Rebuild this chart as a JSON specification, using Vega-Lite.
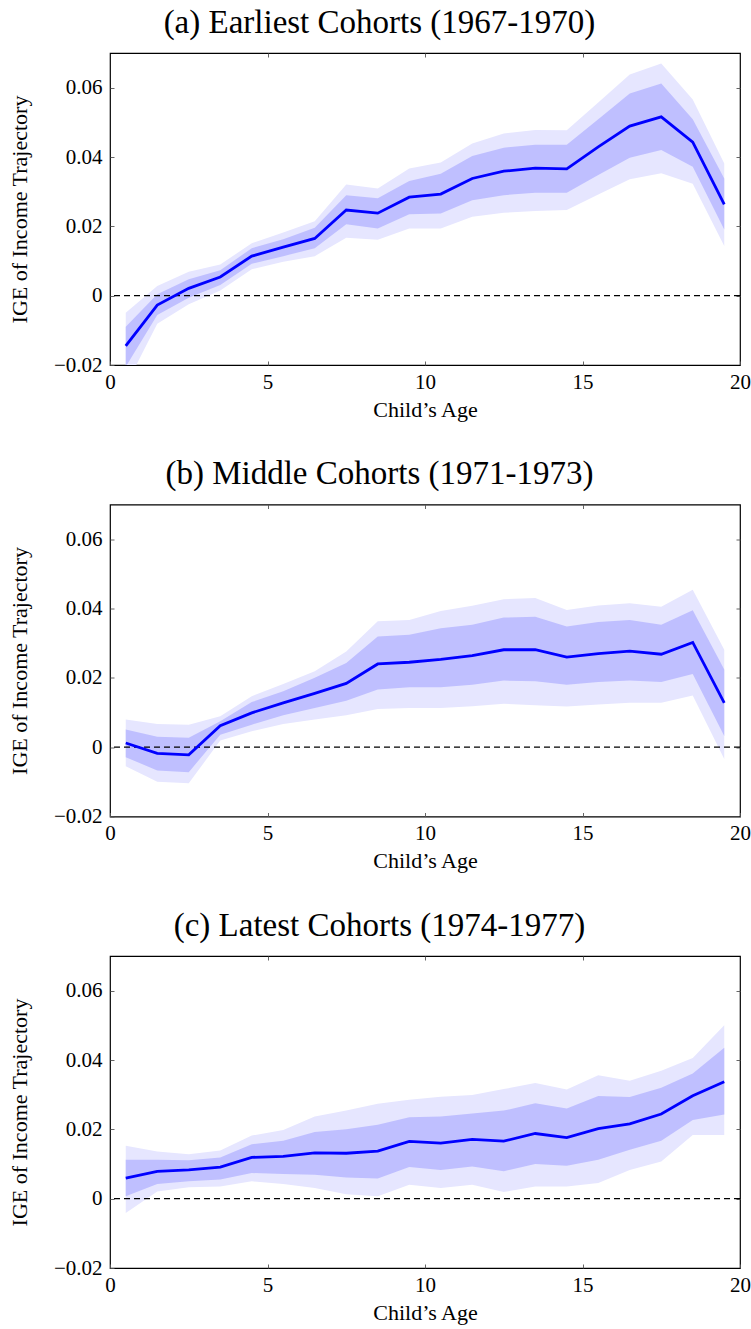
{
  "$schema": "https://vega.github.io/schema/vega-lite/v6.json",
  "background": "white",
  "padding": {"left": 7, "top": 5, "right": 8, "bottom": 2},
  "datasets": {
    "a": [
      {"age": 0.5, "m": -0.0145, "lo2": -0.026, "lo1": -0.0205, "hi1": -0.0090, "hi2": -0.0049},
      {"age": 1.5, "m": -0.0027, "lo2": -0.0081, "lo1": -0.0056, "hi1": 0.0004, "hi2": 0.0028},
      {"age": 2.5, "m": 0.0021, "lo2": -0.0025, "lo1": -0.0006, "hi1": 0.0047, "hi2": 0.0069},
      {"age": 3.5, "m": 0.0054, "lo2": 0.0015, "lo1": 0.0031, "hi1": 0.0073, "hi2": 0.0090},
      {"age": 4.5, "m": 0.0114, "lo2": 0.0076, "lo1": 0.0092, "hi1": 0.0137, "hi2": 0.0151},
      {"age": 5.5, "m": 0.0140, "lo2": 0.0098, "lo1": 0.0114, "hi1": 0.0163, "hi2": 0.0182},
      {"age": 6.5, "m": 0.0165, "lo2": 0.0114, "lo1": 0.0137, "hi1": 0.0196, "hi2": 0.0215},
      {"age": 7.5, "m": 0.0247, "lo2": 0.0167, "lo1": 0.0206, "hi1": 0.0290, "hi2": 0.0321},
      {"age": 8.5, "m": 0.0238, "lo2": 0.0161, "lo1": 0.0194, "hi1": 0.0281, "hi2": 0.0309},
      {"age": 9.5, "m": 0.0284, "lo2": 0.0194, "lo1": 0.0235, "hi1": 0.0331, "hi2": 0.0367},
      {"age": 10.5, "m": 0.0293, "lo2": 0.0194, "lo1": 0.0237, "hi1": 0.0352, "hi2": 0.0384},
      {"age": 11.5, "m": 0.0338, "lo2": 0.0228, "lo1": 0.0275, "hi1": 0.0403, "hi2": 0.0439},
      {"age": 12.5, "m": 0.0359, "lo2": 0.0239, "lo1": 0.0290, "hi1": 0.0427, "hi2": 0.0468},
      {"age": 13.5, "m": 0.0368, "lo2": 0.0244, "lo1": 0.0297, "hi1": 0.0435, "hi2": 0.0478},
      {"age": 14.5, "m": 0.0366, "lo2": 0.0247, "lo1": 0.0297, "hi1": 0.0435, "hi2": 0.0477},
      {"age": 15.5, "m": 0.0429, "lo2": 0.0292, "lo1": 0.0348, "hi1": 0.0509, "hi2": 0.0557},
      {"age": 16.5, "m": 0.0489, "lo2": 0.0336, "lo1": 0.0398, "hi1": 0.0583, "hi2": 0.0638},
      {"age": 17.5, "m": 0.0516, "lo2": 0.0353, "lo1": 0.0420, "hi1": 0.0612, "hi2": 0.0670},
      {"age": 18.5, "m": 0.0443, "lo2": 0.0323, "lo1": 0.0372, "hi1": 0.0509, "hi2": 0.0566},
      {"age": 19.5, "m": 0.0263, "lo2": 0.0143, "lo1": 0.0191, "hi1": 0.0338, "hi2": 0.0381}
    ],
    "b": [
      {"age": 0.5, "m": 0.0012, "lo2": -0.0055, "lo1": -0.0029, "hi1": 0.0051, "hi2": 0.0080},
      {"age": 1.5, "m": -0.0018, "lo2": -0.0100, "lo1": -0.0067, "hi1": 0.0030, "hi2": 0.0067},
      {"age": 2.5, "m": -0.0022, "lo2": -0.0104, "lo1": -0.0072, "hi1": 0.0027, "hi2": 0.0065},
      {"age": 3.5, "m": 0.0062, "lo2": 0.0019, "lo1": 0.0036, "hi1": 0.0075, "hi2": 0.0089},
      {"age": 4.5, "m": 0.0099, "lo2": 0.0046, "lo1": 0.0065, "hi1": 0.0130, "hi2": 0.0147},
      {"age": 5.5, "m": 0.0128, "lo2": 0.0067, "lo1": 0.0092, "hi1": 0.0161, "hi2": 0.0182},
      {"age": 6.5, "m": 0.0155, "lo2": 0.0080, "lo1": 0.0113, "hi1": 0.0200, "hi2": 0.0219},
      {"age": 7.5, "m": 0.0184, "lo2": 0.0092, "lo1": 0.0134, "hi1": 0.0243, "hi2": 0.0276},
      {"age": 8.5, "m": 0.0240, "lo2": 0.0110, "lo1": 0.0166, "hi1": 0.0319, "hi2": 0.0363},
      {"age": 9.5, "m": 0.0245, "lo2": 0.0113, "lo1": 0.0173, "hi1": 0.0324, "hi2": 0.0367},
      {"age": 10.5, "m": 0.0253, "lo2": 0.0113, "lo1": 0.0173, "hi1": 0.0343, "hi2": 0.0393},
      {"age": 11.5, "m": 0.0264, "lo2": 0.0118, "lo1": 0.0180, "hi1": 0.0353, "hi2": 0.0408},
      {"age": 12.5, "m": 0.0281, "lo2": 0.0125, "lo1": 0.0192, "hi1": 0.0374, "hi2": 0.0427},
      {"age": 13.5, "m": 0.0281, "lo2": 0.0121, "lo1": 0.0190, "hi1": 0.0376, "hi2": 0.0430},
      {"age": 14.5, "m": 0.0260, "lo2": 0.0117, "lo1": 0.0180, "hi1": 0.0348, "hi2": 0.0396},
      {"age": 15.5, "m": 0.0270, "lo2": 0.0123, "lo1": 0.0188, "hi1": 0.0361, "hi2": 0.0409},
      {"age": 16.5, "m": 0.0277, "lo2": 0.0128, "lo1": 0.0192, "hi1": 0.0367, "hi2": 0.0415},
      {"age": 17.5, "m": 0.0268, "lo2": 0.0128, "lo1": 0.0188, "hi1": 0.0353, "hi2": 0.0405},
      {"age": 18.5, "m": 0.0302, "lo2": 0.0149, "lo1": 0.0211, "hi1": 0.0395, "hi2": 0.0454},
      {"age": 19.5, "m": 0.0128, "lo2": -0.0034, "lo1": 0.0032, "hi1": 0.0224, "hi2": 0.0281}
    ],
    "c": [
      {"age": 0.5, "m": 0.0059, "lo2": -0.0041, "lo1": 0.0007, "hi1": 0.0112, "hi2": 0.0153},
      {"age": 1.5, "m": 0.0079, "lo2": 0.0021, "lo1": 0.0042, "hi1": 0.0112, "hi2": 0.0136},
      {"age": 2.5, "m": 0.0083, "lo2": 0.0033, "lo1": 0.0050, "hi1": 0.0111, "hi2": 0.0128},
      {"age": 3.5, "m": 0.0091, "lo2": 0.0035, "lo1": 0.0055, "hi1": 0.0119, "hi2": 0.0139},
      {"age": 4.5, "m": 0.0119, "lo2": 0.0050, "lo1": 0.0074, "hi1": 0.0157, "hi2": 0.0182},
      {"age": 5.5, "m": 0.0122, "lo2": 0.0042, "lo1": 0.0071, "hi1": 0.0167, "hi2": 0.0198},
      {"age": 6.5, "m": 0.0132, "lo2": 0.0031, "lo1": 0.0069, "hi1": 0.0192, "hi2": 0.0237},
      {"age": 7.5, "m": 0.0131, "lo2": 0.0013, "lo1": 0.0061, "hi1": 0.0200, "hi2": 0.0254},
      {"age": 8.5, "m": 0.0137, "lo2": 0.0007, "lo1": 0.0058, "hi1": 0.0213, "hi2": 0.0274},
      {"age": 9.5, "m": 0.0165, "lo2": 0.0040, "lo1": 0.0091, "hi1": 0.0235, "hi2": 0.0285},
      {"age": 10.5, "m": 0.0160, "lo2": 0.0031, "lo1": 0.0083, "hi1": 0.0237, "hi2": 0.0294},
      {"age": 11.5, "m": 0.0171, "lo2": 0.0040, "lo1": 0.0093, "hi1": 0.0246, "hi2": 0.0299},
      {"age": 12.5, "m": 0.0166, "lo2": 0.0019, "lo1": 0.0079, "hi1": 0.0254, "hi2": 0.0316},
      {"age": 13.5, "m": 0.0188, "lo2": 0.0035, "lo1": 0.0100, "hi1": 0.0275, "hi2": 0.0334},
      {"age": 14.5, "m": 0.0176, "lo2": 0.0035, "lo1": 0.0095, "hi1": 0.0260, "hi2": 0.0315},
      {"age": 15.5, "m": 0.0202, "lo2": 0.0045, "lo1": 0.0112, "hi1": 0.0296, "hi2": 0.0356},
      {"age": 16.5, "m": 0.0216, "lo2": 0.0083, "lo1": 0.0141, "hi1": 0.0293, "hi2": 0.0340},
      {"age": 17.5, "m": 0.0244, "lo2": 0.0107, "lo1": 0.0167, "hi1": 0.0320, "hi2": 0.0369},
      {"age": 18.5, "m": 0.0297, "lo2": 0.0184, "lo1": 0.0227, "hi1": 0.0361, "hi2": 0.0406},
      {"age": 19.5, "m": 0.0337, "lo2": 0.0184, "lo1": 0.0243, "hi1": 0.0435, "hi2": 0.0500}
    ],
    "zero": [{"y": 0}]
  },
  "vconcat": [
    {
      "title": {"text": "(a) Earliest Cohorts (1967-1970)"},
      "width": 630, "height": 312,
      "layer": [
        {"data": {"name": "a"}, "mark": {"type": "area", "color": "#e6e6ff", "opacity": 1, "clip": true},
         "encoding": {
           "x": {"field": "age", "type": "quantitative", "scale": {"domain": [0, 20], "nice": false}, "axis": {"orient": "bottom", "values": [0, 5, 10, 15, 20], "title": "Child’s Age"}},
           "y": {"field": "lo2", "type": "quantitative", "scale": {"domain": [-0.02, 0.07], "nice": false, "zero": false}, "axis": {"orient": "left", "values": [-0.02, 0, 0.02, 0.04, 0.06], "format": ".2~f", "title": "IGE of Income Trajectory"}},
           "y2": {"field": "hi2"}}},
        {"data": {"name": "a"}, "mark": {"type": "area", "color": "#bfbfff", "opacity": 1, "clip": true},
         "encoding": {
           "x": {"field": "age", "type": "quantitative", "scale": {"domain": [0, 20], "nice": false}, "axis": null},
           "y": {"field": "lo1", "type": "quantitative", "scale": {"domain": [-0.02, 0.07], "nice": false, "zero": false}, "axis": null},
           "y2": {"field": "hi1"}}},
        {"data": {"name": "zero"}, "mark": {"type": "rule", "color": "black", "strokeWidth": 1.3, "strokeDash": [6, 4]},
         "encoding": {"y": {"field": "y", "type": "quantitative", "scale": {"domain": [-0.02, 0.07], "nice": false, "zero": false}, "axis": null}}},
        {"data": {"name": "a"}, "mark": {"type": "line", "color": "#0000ff", "strokeWidth": 2.8, "clip": true},
         "encoding": {
           "x": {"field": "age", "type": "quantitative", "scale": {"domain": [0, 20], "nice": false}, "axis": {"orient": "top", "values": [5, 10, 15], "labels": false, "title": null}},
           "y": {"field": "m", "type": "quantitative", "scale": {"domain": [-0.02, 0.07], "nice": false, "zero": false}, "axis": {"orient": "right", "values": [0, 0.02, 0.04, 0.06], "labels": false, "title": null}}}}
      ],
      "resolve": {"axis": {"x": "independent", "y": "independent"}}
    },
    {
      "title": {"text": "(b) Middle Cohorts (1971-1973)"},
      "width": 630, "height": 312,
      "layer": [
        {"data": {"name": "b"}, "mark": {"type": "area", "color": "#e6e6ff", "opacity": 1, "clip": true},
         "encoding": {
           "x": {"field": "age", "type": "quantitative", "scale": {"domain": [0, 20], "nice": false}, "axis": {"orient": "bottom", "values": [0, 5, 10, 15, 20], "title": "Child’s Age"}},
           "y": {"field": "lo2", "type": "quantitative", "scale": {"domain": [-0.02, 0.07], "nice": false, "zero": false}, "axis": {"orient": "left", "values": [-0.02, 0, 0.02, 0.04, 0.06], "format": ".2~f", "title": "IGE of Income Trajectory"}},
           "y2": {"field": "hi2"}}},
        {"data": {"name": "b"}, "mark": {"type": "area", "color": "#bfbfff", "opacity": 1, "clip": true},
         "encoding": {
           "x": {"field": "age", "type": "quantitative", "scale": {"domain": [0, 20], "nice": false}, "axis": null},
           "y": {"field": "lo1", "type": "quantitative", "scale": {"domain": [-0.02, 0.07], "nice": false, "zero": false}, "axis": null},
           "y2": {"field": "hi1"}}},
        {"data": {"name": "zero"}, "mark": {"type": "rule", "color": "black", "strokeWidth": 1.3, "strokeDash": [6, 4]},
         "encoding": {"y": {"field": "y", "type": "quantitative", "scale": {"domain": [-0.02, 0.07], "nice": false, "zero": false}, "axis": null}}},
        {"data": {"name": "b"}, "mark": {"type": "line", "color": "#0000ff", "strokeWidth": 2.8, "clip": true},
         "encoding": {
           "x": {"field": "age", "type": "quantitative", "scale": {"domain": [0, 20], "nice": false}, "axis": {"orient": "top", "values": [5, 10, 15], "labels": false, "title": null}},
           "y": {"field": "m", "type": "quantitative", "scale": {"domain": [-0.02, 0.07], "nice": false, "zero": false}, "axis": {"orient": "right", "values": [0, 0.02, 0.04, 0.06], "labels": false, "title": null}}}}
      ],
      "resolve": {"axis": {"x": "independent", "y": "independent"}}
    },
    {
      "title": {"text": "(c) Latest Cohorts (1974-1977)"},
      "width": 630, "height": 312,
      "layer": [
        {"data": {"name": "c"}, "mark": {"type": "area", "color": "#e6e6ff", "opacity": 1, "clip": true},
         "encoding": {
           "x": {"field": "age", "type": "quantitative", "scale": {"domain": [0, 20], "nice": false}, "axis": {"orient": "bottom", "values": [0, 5, 10, 15, 20], "title": "Child’s Age"}},
           "y": {"field": "lo2", "type": "quantitative", "scale": {"domain": [-0.02, 0.07], "nice": false, "zero": false}, "axis": {"orient": "left", "values": [-0.02, 0, 0.02, 0.04, 0.06], "format": ".2~f", "title": "IGE of Income Trajectory"}},
           "y2": {"field": "hi2"}}},
        {"data": {"name": "c"}, "mark": {"type": "area", "color": "#bfbfff", "opacity": 1, "clip": true},
         "encoding": {
           "x": {"field": "age", "type": "quantitative", "scale": {"domain": [0, 20], "nice": false}, "axis": null},
           "y": {"field": "lo1", "type": "quantitative", "scale": {"domain": [-0.02, 0.07], "nice": false, "zero": false}, "axis": null},
           "y2": {"field": "hi1"}}},
        {"data": {"name": "zero"}, "mark": {"type": "rule", "color": "black", "strokeWidth": 1.3, "strokeDash": [6, 4]},
         "encoding": {"y": {"field": "y", "type": "quantitative", "scale": {"domain": [-0.02, 0.07], "nice": false, "zero": false}, "axis": null}}},
        {"data": {"name": "c"}, "mark": {"type": "line", "color": "#0000ff", "strokeWidth": 2.8, "clip": true},
         "encoding": {
           "x": {"field": "age", "type": "quantitative", "scale": {"domain": [0, 20], "nice": false}, "axis": {"orient": "top", "values": [5, 10, 15], "labels": false, "title": null}},
           "y": {"field": "m", "type": "quantitative", "scale": {"domain": [-0.02, 0.07], "nice": false, "zero": false}, "axis": {"orient": "right", "values": [0, 0.02, 0.04, 0.06], "labels": false, "title": null}}}}
      ],
      "resolve": {"axis": {"x": "independent", "y": "independent"}}
    }
  ],
  "spacing": 35.5,
  "config": {
    "font": "Liberation Serif, serif",
    "view": {"stroke": "black", "strokeWidth": 1.2},
    "axis": {
      "labelFont": "Liberation Serif, serif", "titleFont": "Liberation Serif, serif",
      "labelFontSize": 21, "titleFontSize": 22,
      "labelColor": "black", "titleColor": "black", "titleFontWeight": "normal",
      "grid": false, "domain": false,
      "tickColor": "#555555", "tickWidth": 0.9, "tickSize": -4,
      "labelPadding": 10, "titlePadding": 7, "labelFlush": false, "labelOverlap": false
    },
    "axisLeft": {"labelPadding": 12, "titlePadding": 22},
    "title": {"font": "Liberation Serif, serif", "fontSize": 33, "fontWeight": "normal", "color": "black", "frame": "bounds", "anchor": "middle", "offset": 13}
  }
}
